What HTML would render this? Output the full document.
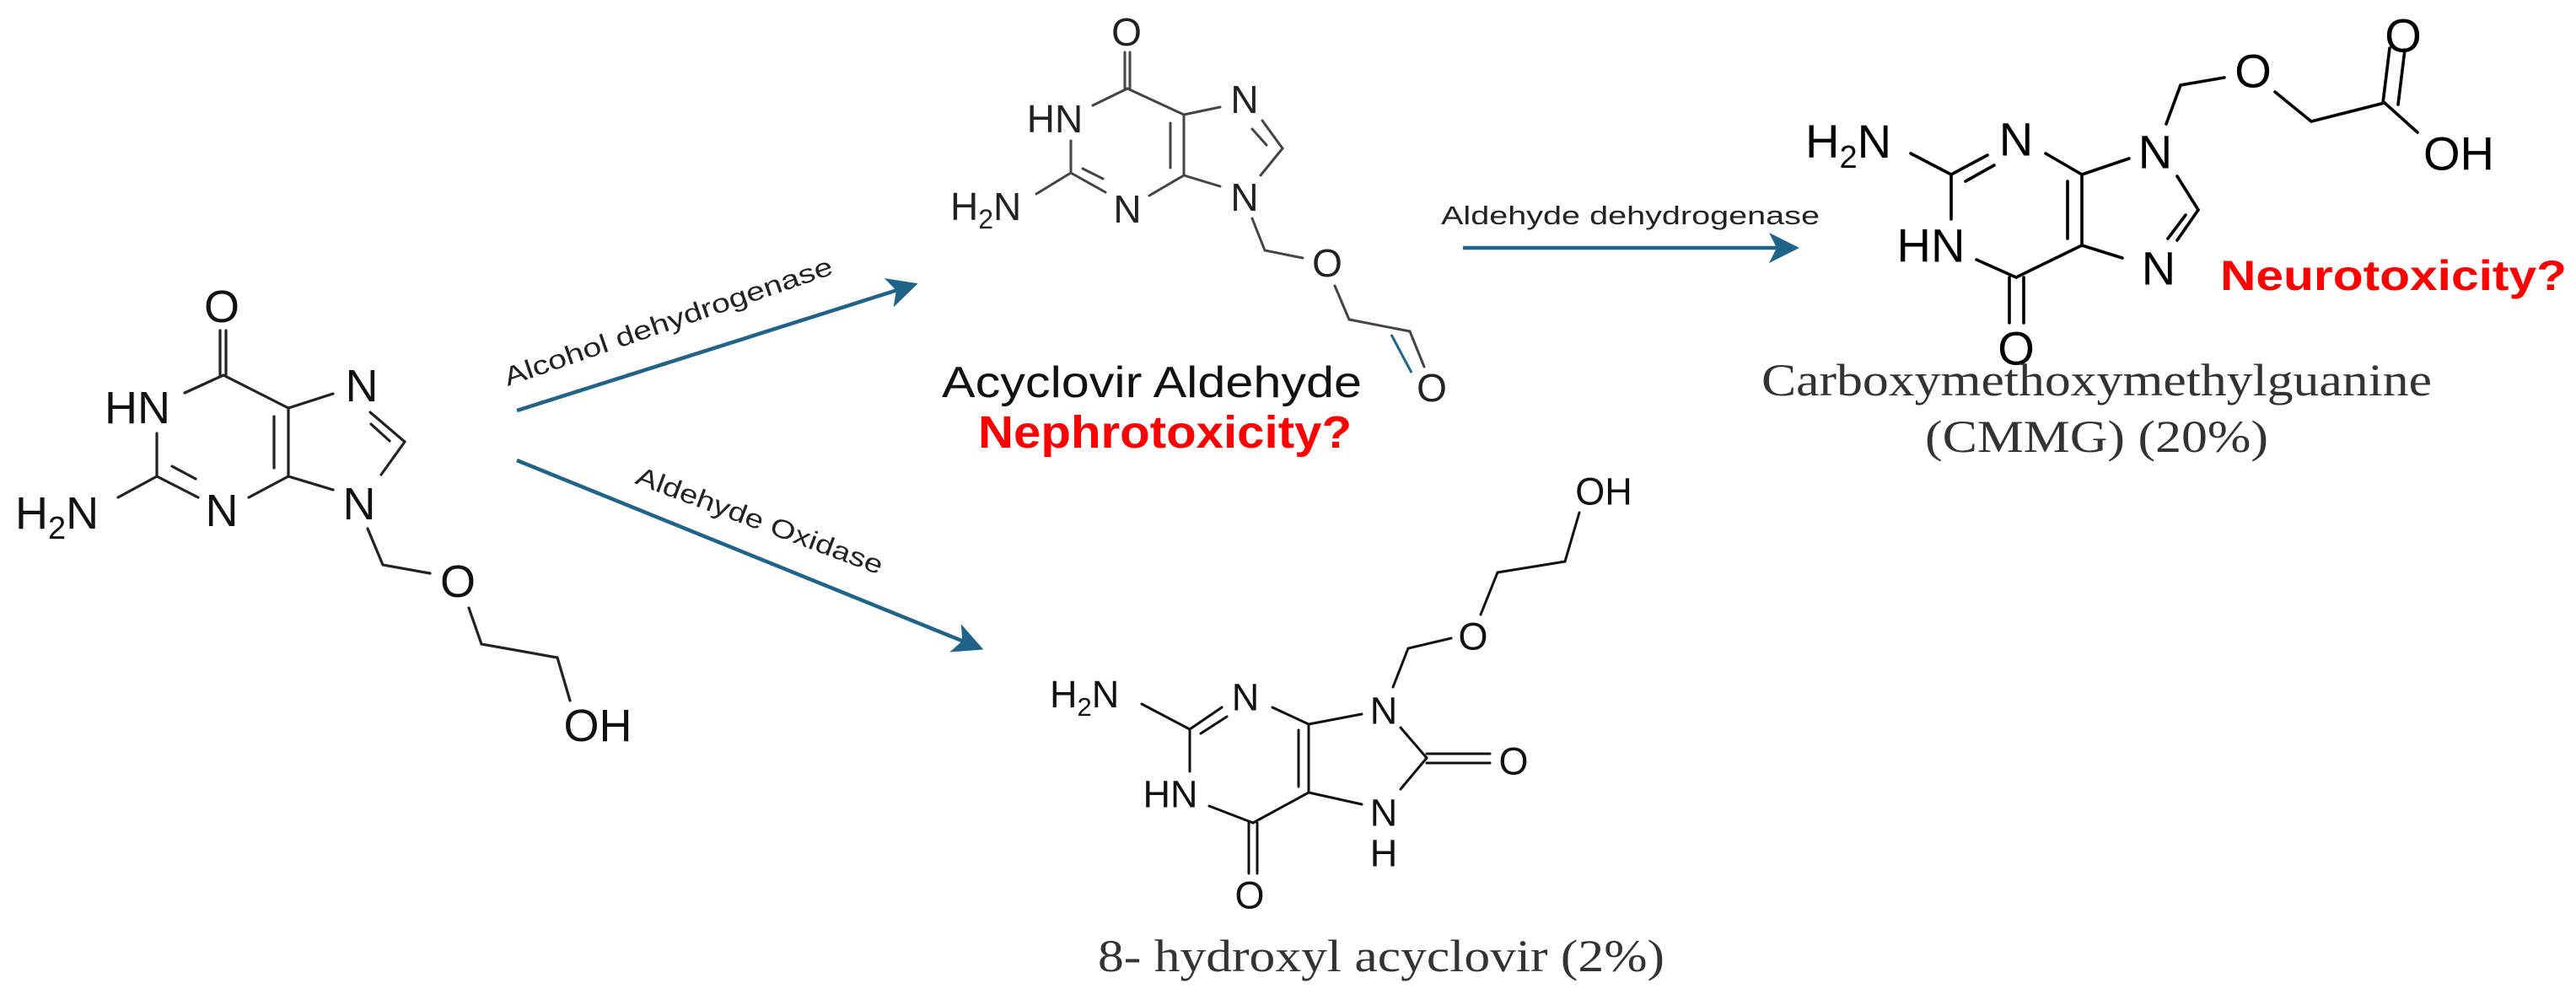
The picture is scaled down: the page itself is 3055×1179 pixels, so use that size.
<!DOCTYPE html>
<html><head><meta charset="utf-8"><style>
html,body{margin:0;padding:0;background:#fff;}
svg{display:block;}
text{font-family:"Liberation Sans",sans-serif;}
.s{font-family:"Liberation Serif",serif;fill:#333;}
</style></head><body>
<svg width="3055" height="1179" viewBox="0 0 3055 1179" xmlns="http://www.w3.org/2000/svg">
<defs>
<marker id="ah" markerWidth="8" markerHeight="8" refX="6" refY="4" orient="auto" markerUnits="strokeWidth">
<path d="M0,0 L8,4 L0,8 L2,4 z" fill="#1f6388"/>
</marker>
</defs>

<!-- Molecule 1: acyclovir -->
<g stroke="#222" stroke-width="3.2" fill="none" stroke-linecap="round">
<line x1="261" y1="392" x2="261" y2="445"/><line x1="268" y1="392" x2="268" y2="445"/>
<line x1="219" y1="466" x2="265" y2="445"/>
<line x1="265" y1="445" x2="342" y2="484"/>
<line x1="342" y1="484" x2="395" y2="467"/>
<line x1="439" y1="489" x2="480" y2="524"/><line x1="440" y1="503" x2="462" y2="523"/>
<line x1="480" y1="524" x2="452" y2="563"/>
<line x1="342" y1="484" x2="342" y2="565"/><line x1="325" y1="494" x2="325" y2="555"/>
<line x1="342" y1="565" x2="395" y2="581"/>
<line x1="342" y1="565" x2="295" y2="590"/>
<line x1="186" y1="565" x2="235" y2="590"/><line x1="204" y1="553" x2="232" y2="568"/>
<line x1="186" y1="514" x2="186" y2="565"/>
<line x1="186" y1="565" x2="140" y2="590"/>
<polyline points="436,627 454,670 510,680"/>
<polyline points="556,721 571,764 661,780 676,831"/>
</g>
<g font-size="54" fill="#111" text-anchor="middle" dominant-baseline="central">
<text x="263" y="364">O</text>
<text x="163" y="484">HN</text>
<text x="429" y="458">N</text>
<text x="426" y="598">N</text>
<text x="263" y="606">N</text>
<text x="543" y="690">O</text>
<text x="709" y="861">OH</text>
</g>
<text x="18" y="627" font-size="54" fill="#111">H<tspan font-size="38" dy="12">2</tspan><tspan dy="-12">N</tspan></text>

<!-- Arrows -->
<g stroke="#1f6388" stroke-width="4.5" fill="none">
<line x1="613" y1="487" x2="1080" y2="339" marker-end="url(#ah)"/>
<line x1="613" y1="546" x2="1158" y2="767" marker-end="url(#ah)"/>
<line x1="1735" y1="294" x2="2125" y2="294" marker-end="url(#ah)"/>
</g>
<text x="602" y="458" font-size="31" fill="#222" transform="rotate(-19 602 458)" textLength="410" lengthAdjust="spacingAndGlyphs">Alcohol dehydrogenase</text>
<text x="752" y="573" font-size="31" fill="#222" transform="rotate(20.5 752 573)" textLength="310" lengthAdjust="spacingAndGlyphs">Aldehyde Oxidase</text>
<text x="1709" y="266" font-size="31" fill="#222" textLength="449" lengthAdjust="spacingAndGlyphs">Aldehyde dehydrogenase</text>

<!-- Molecule 2: acyclovir aldehyde -->
<g stroke="#444" stroke-width="3" fill="none" stroke-linecap="round">
<line x1="1334" y1="62" x2="1334" y2="105"/><line x1="1340" y1="62" x2="1340" y2="105"/>
<line x1="1296" y1="125" x2="1337" y2="105"/>
<line x1="1337" y1="105" x2="1404" y2="136"/>
<line x1="1404" y1="136" x2="1447" y2="127"/>
<line x1="1497" y1="143" x2="1521" y2="176"/><line x1="1485" y1="153" x2="1502" y2="172"/>
<line x1="1521" y1="176" x2="1495" y2="208"/>
<line x1="1404" y1="136" x2="1404" y2="208"/><line x1="1388" y1="146" x2="1388" y2="199"/>
<line x1="1404" y1="208" x2="1447" y2="221"/>
<line x1="1404" y1="208" x2="1363" y2="232"/>
<line x1="1270" y1="205" x2="1311" y2="228"/><line x1="1284" y1="200" x2="1308" y2="212"/>
<line x1="1270" y1="167" x2="1270" y2="205"/>
<line x1="1270" y1="205" x2="1229" y2="230"/>
<polyline points="1485,259 1500,297 1545,306"/>
<polyline points="1583,339 1600,379 1672,393 1689,435"/>
</g>
<line x1="1650" y1="397" x2="1674" y2="442" stroke="#1f6388" stroke-width="3"/>
<g font-size="46" fill="#222" text-anchor="middle" dominant-baseline="central">
<text x="1336" y="38">O</text>
<text x="1251" y="141">HN</text>
<text x="1476" y="118">N</text>
<text x="1476" y="234">N</text>
<text x="1337" y="248">N</text>
<text x="1574" y="312">O</text>
<text x="1698" y="460">O</text>
</g>
<text x="1127" y="261" font-size="46" fill="#222">H<tspan font-size="32" dy="10">2</tspan><tspan dy="-10">N</tspan></text>
<text x="1117" y="471" font-size="52" fill="#111" textLength="498" lengthAdjust="spacingAndGlyphs">Acyclovir Aldehyde</text>
<text x="1160" y="531" font-size="54" font-weight="bold" fill="#f00" textLength="443" lengthAdjust="spacingAndGlyphs">Nephrotoxicity?</text>

<!-- Molecule 3: CMMG -->
<g stroke="#000" stroke-width="3.6" fill="none" stroke-linecap="round">
<line x1="2266" y1="182" x2="2314" y2="207"/>
<line x1="2314" y1="207" x2="2357" y2="184"/><line x1="2331" y1="215" x2="2365" y2="196"/>
<line x1="2426" y1="182" x2="2469" y2="207"/>
<line x1="2469" y1="207" x2="2525" y2="188"/>
<polyline points="2569,147 2586,101 2638,92"/>
<polyline points="2698,109 2741,144 2828,122"/>
<line x1="2826" y1="122" x2="2834" y2="57"/><line x1="2844" y1="124" x2="2852" y2="59"/>
<line x1="2828" y1="122" x2="2867" y2="157"/>
<line x1="2582" y1="209" x2="2607" y2="249"/>
<line x1="2607" y1="249" x2="2582" y2="285"/><line x1="2592" y1="255" x2="2571" y2="283"/>
<line x1="2517" y1="306" x2="2469" y2="291"/>
<line x1="2469" y1="207" x2="2469" y2="291"/><line x1="2452" y1="215" x2="2452" y2="283"/>
<line x1="2469" y1="291" x2="2391" y2="329"/>
<line x1="2391" y1="329" x2="2344" y2="308"/>
<line x1="2314" y1="260" x2="2314" y2="207"/>
<line x1="2383" y1="329" x2="2383" y2="383"/><line x1="2400" y1="329" x2="2400" y2="383"/>
</g>
<g font-size="56" fill="#000" text-anchor="middle" dominant-baseline="central">
<text x="2391" y="165">N</text>
<text x="2556" y="180">N</text>
<text x="2672" y="84">O</text>
<text x="2850" y="42">O</text>
<text x="2916" y="182">OH</text>
<text x="2560" y="318">N</text>
<text x="2290" y="291">HN</text>
<text x="2391" y="413">O</text>
</g>
<text x="2141" y="187" font-size="56" fill="#000">H<tspan font-size="38" dy="12">2</tspan><tspan dy="-12">N</tspan></text>
<text x="2633" y="344" font-size="50" font-weight="bold" fill="#f00" textLength="411" lengthAdjust="spacingAndGlyphs">Neurotoxicity?</text>
<text class="s" x="2089" y="469" font-size="54" textLength="795" lengthAdjust="spacingAndGlyphs">Carboxymethoxymethylguanine</text>
<text class="s" x="2283" y="536" font-size="54" textLength="407" lengthAdjust="spacingAndGlyphs">(CMMG) (20%)</text>

<!-- Molecule 4: 8-hydroxyl acyclovir -->
<g stroke="#111" stroke-width="3" fill="none" stroke-linecap="round">
<polyline points="1873,608 1856,666 1776,679 1756,729"/>
<polyline points="1721,757 1670,769 1652,815"/>
<line x1="1661" y1="863" x2="1692" y2="899"/>
<line x1="1692" y1="894" x2="1767" y2="894"/><line x1="1692" y1="905" x2="1767" y2="905"/>
<line x1="1692" y1="899" x2="1661" y2="936"/>
<line x1="1615" y1="954" x2="1552" y2="940"/>
<line x1="1552" y1="859" x2="1552" y2="940"/><line x1="1540" y1="866" x2="1540" y2="933"/>
<line x1="1552" y1="859" x2="1615" y2="847"/>
<line x1="1552" y1="859" x2="1509" y2="839"/>
<line x1="1449" y1="839" x2="1411" y2="865"/><line x1="1455" y1="850" x2="1424" y2="870"/>
<line x1="1411" y1="865" x2="1354" y2="835"/>
<line x1="1411" y1="865" x2="1411" y2="915"/>
<line x1="1434" y1="956" x2="1486" y2="976"/>
<line x1="1486" y1="976" x2="1552" y2="940"/>
<line x1="1481" y1="976" x2="1481" y2="1036"/><line x1="1491" y1="976" x2="1491" y2="1036"/>
</g>
<g font-size="45" fill="#111" text-anchor="middle" dominant-baseline="central">
<text x="1902" y="583">OH</text>
<text x="1747" y="755">O</text>
<text x="1641" y="843">N</text>
<text x="1795" y="903">O</text>
<text x="1641" y="964">N</text>
<text x="1641" y="1012">H</text>
<text x="1477" y="827">N</text>
<text x="1388" y="942">HN</text>
<text x="1482" y="1062">O</text>
</g>
<text x="1245" y="839" font-size="45" fill="#111">H<tspan font-size="31" dy="10">2</tspan><tspan dy="-10">N</tspan></text>
<text class="s" x="1302" y="1152" font-size="54" textLength="672" lengthAdjust="spacingAndGlyphs">8- hydroxyl acyclovir (2%)</text>
</svg>
</body></html>
